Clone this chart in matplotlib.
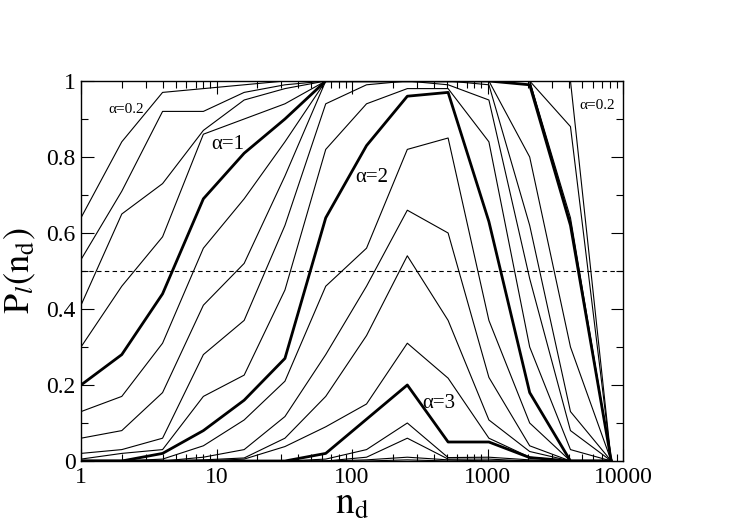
import matplotlib
matplotlib.use('Agg')
import matplotlib.pyplot as plt
from matplotlib.ticker import MultipleLocator, LogLocator, NullFormatter, FixedLocator, FixedFormatter

plt.rcParams['font.family'] = ['Liberation Serif', 'DejaVu Serif']
plt.rcParams['mathtext.fontset'] = 'stix'

n_d = [1, 2, 4, 8, 16, 32, 64, 128, 256, 512, 1024, 2048, 4096, 8192]

alphas = [0.2, 0.4, 0.6, 0.8, 1.0, 1.2, 1.4, 1.6, 1.8, 2.0,
          2.2, 2.4, 2.6, 2.8, 3.0, 3.2, 3.4, 3.6, 3.8, 4.0]

# P_l(n_d) for each alpha
p_a02 = [0.64, 0.84, 0.97, 0.98, 0.99, 1.0, 1.0, 1.0, 1.0, 1.0, 1.0, 1.0, 1.0, 0.0]
p_a04 = [0.53, 0.71, 0.92, 0.92, 0.97, 0.99, 1.0, 1.0, 1.0, 1.0, 1.0, 1.0, 0.88, 0.0]
p_a06 = [0.41, 0.65, 0.73, 0.87, 0.95, 0.98, 1.0, 1.0, 1.0, 1.0, 1.0, 1.0, 0.64, 0.0]
p_a08 = [0.30, 0.46, 0.59, 0.86, 0.90, 0.94, 1.0, 1.0, 1.0, 1.0, 1.0, 1.0, 0.63, 0.0]
p_a10 = [0.20, 0.28, 0.44, 0.69, 0.81, 0.90, 1.0, 1.0, 1.0, 1.0, 1.0, 0.99, 0.62, 0.0]
p_a12 = [0.13, 0.17, 0.31, 0.56, 0.69, 0.84, 1.0, 1.0, 1.0, 1.0, 1.0, 0.80, 0.30, 0.0]
p_a14 = [0.06, 0.08, 0.18, 0.41, 0.52, 0.75, 1.0, 1.0, 1.0, 1.0, 0.99, 0.62, 0.13, 0.0]
p_a16 = [0.02, 0.03, 0.06, 0.28, 0.37, 0.62, 0.94, 0.99, 1.0, 0.99, 0.95, 0.48, 0.08, 0.0]
p_a18 = [0.005, 0.02, 0.03, 0.17, 0.226, 0.45, 0.82, 0.94, 0.98, 0.98, 0.84, 0.30, 0.03, 0.0]
p_a20 = [0.0, 0.0, 0.02, 0.08, 0.16, 0.27, 0.64, 0.83, 0.96, 0.97, 0.63, 0.18, 0.0, 0.0]
p_a22 = [0.0, 0.0, 0.005, 0.04, 0.108, 0.21, 0.46, 0.56, 0.82, 0.85, 0.37, 0.10, 0.0, 0.0]
p_a24 = [0.0, 0.0, 0.0, 0.01, 0.03, 0.117, 0.28, 0.46, 0.66, 0.60, 0.22, 0.04, 0.0, 0.0]
p_a26 = [0.0, 0.0, 0.0, 0.003, 0.008, 0.06, 0.17, 0.33, 0.54, 0.37, 0.108, 0.025, 0.0, 0.0]
p_a28 = [0.0, 0.0, 0.0, 0.0, 0.005, 0.038, 0.09, 0.15, 0.31, 0.218, 0.06, 0.01, 0.0, 0.0]
p_a30 = [0.0, 0.0, 0.0, 0.0, 0.0, 0.0, 0.02, 0.11, 0.20, 0.05, 0.05, 0.009, 0.0, 0.0]
p_a32 = [0.0, 0.0, 0.0, 0.0, 0.0, 0.0, 0.005, 0.03, 0.10, 0.009, 0.01, 0.003, 0.0, 0.0]
p_a34 = [0.0, 0.0, 0.0, 0.0, 0.0, 0.0, 0.0, 0.01, 0.06, 0.005, 0.005, 0.0, 0.0, 0.0]
p_a36 = [0.0, 0.0, 0.0, 0.0, 0.0, 0.0, 0.0, 0.003, 0.01, 0.003, 0.0, 0.0, 0.0, 0.0]
p_a38 = [0.0, 0.0, 0.0, 0.0, 0.0, 0.0, 0.0, 0.0, 0.003, 0.0, 0.0, 0.0, 0.0, 0.0]
p_a40 = [0.0, 0.0, 0.0, 0.0, 0.0, 0.0, 0.0, 0.0, 0.0, 0.0, 0.0, 0.0, 0.0, 0.0]

curves = [p_a02, p_a04, p_a06, p_a08, p_a10, p_a12, p_a14, p_a16, p_a18, p_a20,
          p_a22, p_a24, p_a26, p_a28, p_a30, p_a32, p_a34, p_a36, p_a38, p_a40]
thick_alphas = [1.0, 2.0, 3.0]

y_ticks = [0, 0.2, 0.4, 0.6, 0.8, 1]
y_ticklabels = ['0', '0.2', '0.4', '0.6', '0.8', '1']
x_ticks = [1, 10, 100, 1000, 10000]
x_ticklabels = ['1', '10', '100', '1000', '10000']

fig = plt.figure(figsize=(7.47, 5.28), dpi=100)
ax = fig.add_axes([81 / 747, 67 / 528, 542 / 747, 380 / 528])

for a, p in zip(alphas, curves):
    lw = 2.0 if a in thick_alphas else 0.8
    ax.plot(n_d, p, color='black', linewidth=lw, zorder=3 if lw > 1 else 2)

ax.axhline(0.5, color='black', linewidth=0.8, linestyle=(0, (4, 3)))

ax.set_xscale('log')
ax.set_xlim(1, 10000)
ax.set_ylim(0, 1)

ax.xaxis.set_major_locator(FixedLocator(x_ticks))
ax.xaxis.set_major_formatter(FixedFormatter(x_ticklabels))
ax.xaxis.set_minor_locator(LogLocator(base=10, subs=range(2, 10)))
ax.xaxis.set_minor_formatter(NullFormatter())
ax.yaxis.set_major_locator(FixedLocator(y_ticks))
ax.yaxis.set_major_formatter(FixedFormatter(y_ticklabels))
ax.yaxis.set_minor_locator(MultipleLocator(0.1))

ax.tick_params(which='both', direction='in', top=True, right=True,
               labelsize=17, width=0.8, pad=4,
               labelfontfamily='Liberation Serif')
ax.tick_params(which='major', length=9)
ax.tick_params(which='minor', length=5)
for s in ax.spines.values():
    s.set_linewidth(1.0)

ax.set_xlabel(r'$\mathrm{n_d}$', fontsize=27, labelpad=0)
ax.set_ylabel(r'$\mathrm{P}_{\mathit{l}}\mathrm{(n_d)}$', fontsize=26, labelpad=6)

ax.text(1.6, 0.915, 'α=0.2', fontsize=11)
ax.text(9.2, 0.82, 'α=1', fontsize=15)
ax.text(106, 0.735, 'α=2', fontsize=15)
ax.text(330, 0.14, 'α=3', fontsize=15)
ax.text(4750, 0.925, 'α=0.2', fontsize=11)

fig.savefig('out.png', dpi=100)
